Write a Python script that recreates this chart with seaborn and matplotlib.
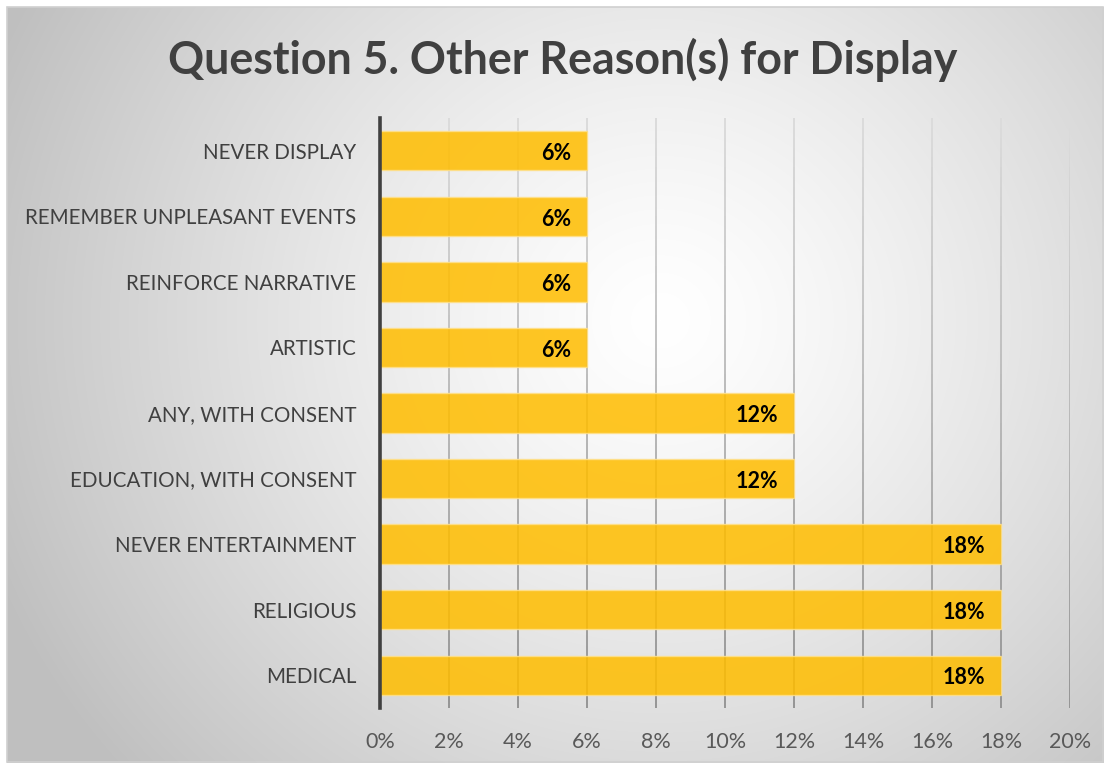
import numpy as np
import pandas as pd
import matplotlib
matplotlib.use("Agg")
import matplotlib.pyplot as plt
from matplotlib.patches import Rectangle
from matplotlib.ticker import FuncFormatter
import seaborn as sns

reasons = [
    "NEVER DISPLAY",
    "REMEMBER UNPLEASANT EVENTS",
    "REINFORCE NARRATIVE",
    "ARTISTIC",
    "ANY, WITH CONSENT",
    "EDUCATION, WITH CONSENT",
    "NEVER ENTERTAINMENT",
    "RELIGIOUS",
    "MEDICAL",
]
shares = [6, 6, 6, 6, 12, 12, 18, 18, 18]
x_ticks = [0, 2, 4, 6, 8, 10, 12, 14, 16, 18, 20]

df = pd.DataFrame({"reason": reasons, "share": shares})

sns.set_theme(style="white")
plt.rcParams["font.family"] = ["Lato", "DejaVu Sans"]

W, H = 1110, 769
fig = plt.figure(figsize=(W / 100, H / 100), dpi=100)
fig.patch.set_facecolor("white")

# radial grey-to-white background panel
bg = fig.add_axes([0, 0, 1, 1], zorder=-10)
yy, xx = np.mgrid[0:H, 0:W]
cx, cy = 660, 320
r = np.sqrt(((xx - cx) / 1.0) ** 2 + ((yy - cy) / 0.95) ** 2)
t = np.clip(r / 720.0, 0, 1)
shade = 1.0 - 0.25 * t ** 1.3
img = np.dstack([shade, shade, shade])
x0, y0, x1, y1 = 7, 7, 1103, 762
mask = (xx < x0) | (xx > x1) | (yy < y0) | (yy > y1)
img[mask] = 1.0
bg.imshow(img, extent=(0, W, H, 0), aspect="auto", interpolation="bilinear")
bg.add_patch(Rectangle((x0, y0), x1 - x0, y1 - y0, fill=False,
                       edgecolor="#d0d0d0", linewidth=1.2))
bg.set_xlim(0, W)
bg.set_ylim(H, 0)
bg.axis("off")

ax = fig.add_axes([380 / W, 1 - 708 / H, (1070 - 380) / W, (708 - 118) / H])
ax.patch.set_alpha(0)

# vertical gridlines, fading lighter towards the top
for xv in x_ticks[1:]:
    n = 60
    ys = np.linspace(-0.5, 8.5, n + 1)
    for i in range(n):
        frac = i / n  # 0 at top, 1 at bottom
        g = 0.86 - 0.28 * frac
        ax.plot([xv, xv], [ys[i], ys[i + 1]], color=(g, g, g), lw=1.4,
                zorder=0.5, solid_capstyle="butt")

sns.barplot(data=df, x="share", y="reason", orient="h", ax=ax,
            color="#FFBD00", alpha=0.86, width=0.6, saturation=1,
            edgecolor="#FFE08A", linewidth=1.0, zorder=2)

for i, v in enumerate(shares):
    ax.annotate(f"{v}%", xy=(v, i), xytext=(-11, -2), textcoords="offset points",
                ha="right", va="center", fontsize=15.5, fontweight="bold",
                color="black", zorder=3)

ax.set_xlim(0, 20)
ax.set_ylim(8.5, -0.5)
ax.set_xticks(x_ticks)
ax.xaxis.set_major_formatter(FuncFormatter(lambda v, p: f"{v:.0f}%"))
ax.set_xlabel("")
ax.set_ylabel("")
ax.tick_params(axis="x", length=0, pad=17, labelsize=15.5, labelcolor="#595959")
ax.tick_params(axis="y", length=0, pad=17, labelsize=14.8, labelcolor="#404040")

for s in ["top", "right", "bottom"]:
    ax.spines[s].set_visible(False)
ax.spines["left"].set_color("#404040")
ax.spines["left"].set_linewidth(2.6)
ax.spines["left"].set_zorder(4)

fig.text(563 / W, 1 - 60 / H, "Question 5. Other Reason(s) for Display",
         ha="center", va="center", fontsize=32.2, fontweight="bold",
         color="#404040")

fig.savefig("out.png", dpi=100)
